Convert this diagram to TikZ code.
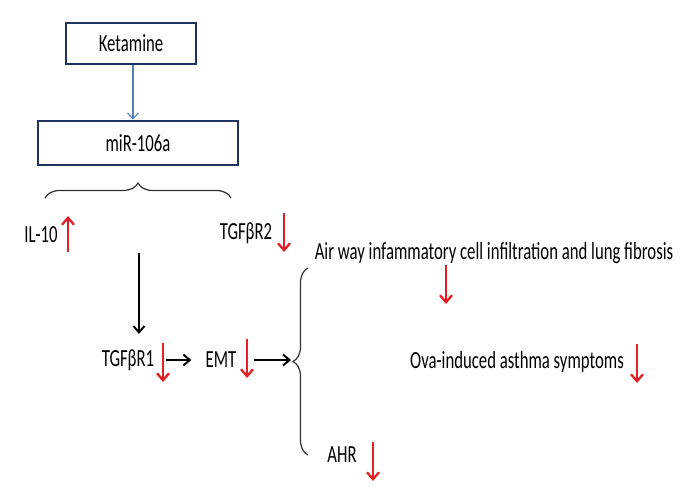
\documentclass[tikz,border=0pt]{standalone}
\usepackage{fontspec}
\setmainfont[FakeStretch=0.68]{Carlito}
\usepackage{xcolor}
\usetikzlibrary{arrows.meta, positioning, calc, decorations.pathreplacing}
\definecolor{boxblue}{RGB}{31,50,96}
\definecolor{lineblue}{RGB}{79,129,189}
\definecolor{markred}{RGB}{226,30,38}

\begin{document}
\begin{tikzpicture}[x=0.02cm, y=-0.02cm,
		box/.style={draw=boxblue, line width=0.055cm, minimum width=2.6cm, minimum height=0.82cm, font=\fontsize{14}{16}\selectfont},
		lbl/.style={inner sep=0pt, font=\fontsize{14}{16}\selectfont},
		flow/.style={-{Straight Barb[length=0.13cm, width=0.22cm]}, line width=1.1pt},
		fall/.style={-{Straight Barb[length=0.14cm, width=0.24cm]}, draw=markred, line width=1.3pt},
		brc/.style={draw=black!80, line width=0.7pt, decorate, decoration={brace, amplitude=0.3cm}}]
		\useasboundingbox (0,0) rectangle (700,500);

		\node[box] (Ketamine) at (131,43.5) {Ketamine};
		\node[box, minimum width=4cm, minimum height=0.88cm] (miR) at (138,143) {miR-106a};

		\node[lbl] (IL10) at (41,235) {IL-10};
		\node[lbl] (TGFR2) at (246,233) {TGFβR2};
		\node[lbl] (TGFR1) at (128,360) {TGFβR1};
		\node[lbl] (EMT) at (221,360) {EMT};
		\node[lbl] (Airway) at (494,253) {Air way infammatory cell infiltration and lung fibrosis};
		\node[lbl] (Ova) at (517,362) {Ova-induced asthma symptoms};
		\node[lbl] (AHR) at (342,455) {AHR};

		\coordinate (Split) at (139,253);
		\coordinate (R1top) at (139,334);
		\coordinate (Tip) at (291,360);

		\draw[-{Straight Barb[length=0.12cm, width=0.22cm]}, draw=lineblue, line width=0.6pt] ([xshift=0.04cm]Ketamine.south) to ([xshift=0.04cm]Ketamine.south |- miR.north);
		\draw[brc] (45,198) -- (231,198);
		\draw[brc] (308,455) -- (308,268);

		\draw[flow] (Split) to (R1top);
		\draw[flow] ($(TGFR1.east)+(11,0)$) to ($(EMT.west)+(-14,0)$);
		\draw[flow] ($(EMT.east)+(17,0)$) to (Tip);

		% red marks
		\draw[fall] (68,252) -- (68,216);
		\draw[fall] (284,213) -- (284,252);
		\draw[fall] (163,343) -- (163,382);
		\draw[fall] (247,339) -- (247,378);
		\draw[fall] (446,265) -- (446,304);
		\draw[fall] (637,344) -- (637,383);
		\draw[fall] (373,442) -- (373,481);
	\end{tikzpicture}
\end{document}
